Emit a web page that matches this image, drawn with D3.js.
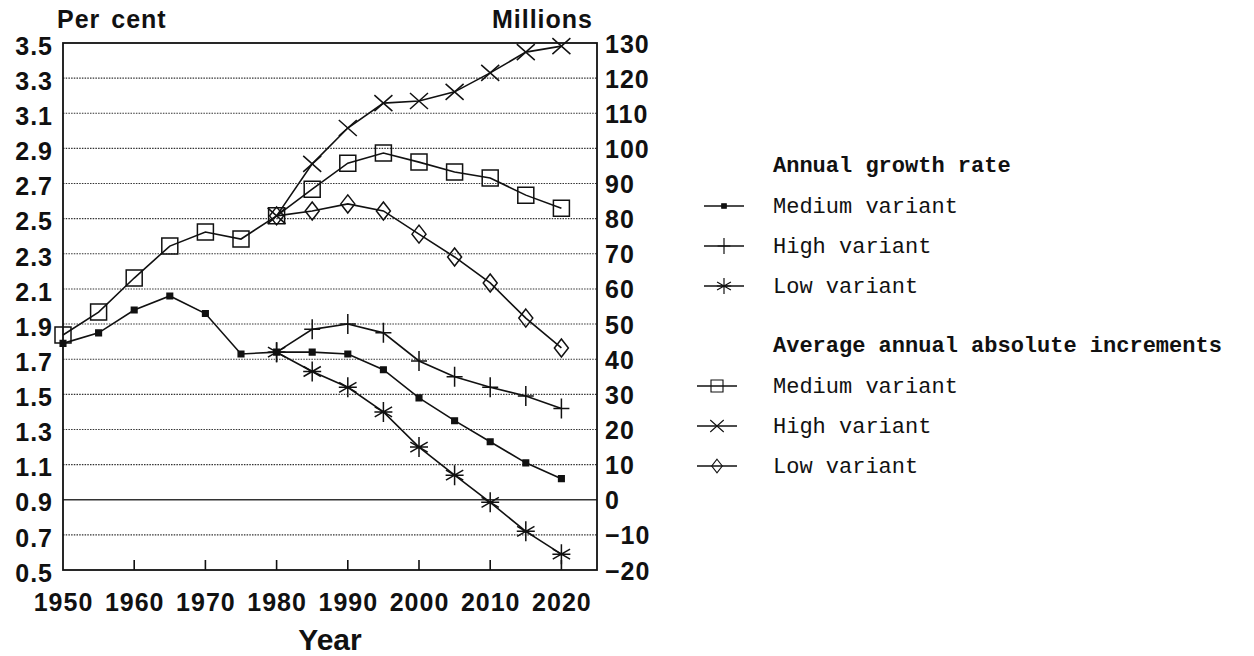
<!DOCTYPE html>
<meta charset="utf-8">
<head>
<title>Annual growth rate and average annual absolute increments</title>
<script src="https://cdn.jsdelivr.net/npm/d3@7"></script>
<style>
  body { margin: 0; background: #fff; }
  svg text { fill: #111; }
  .num { font-family: "Liberation Sans", Arial, sans-serif; font-weight: bold; font-size: 25px; letter-spacing: 1px; }
  .leg { font-family: "Liberation Mono", "Courier New", monospace; font-size: 22px; }
</style>
</head>
<body>
<svg id="chart" width="1254" height="656"></svg>
<script>
// years for all series
var years = [1950, 1955, 1960, 1965, 1970, 1975, 1980, 1985, 1990, 1995, 2000, 2005, 2010, 2015, 2020];
var projYears = [1980, 1985, 1990, 1995, 2000, 2005, 2010, 2015, 2020];

// annual growth rate, per cent
var rateMedium = [1.79, 1.85, 1.98, 2.06, 1.96, 1.73, 1.74, 1.74, 1.73, 1.64, 1.48, 1.35, 1.23, 1.11, 1.02];
var rateHigh = [1.74, 1.87, 1.90, 1.85, 1.69, 1.60, 1.54, 1.49, 1.42];
var rateLow = [1.74, 1.63, 1.54, 1.40, 1.20, 1.04, 0.885, 0.72, 0.59];

// average annual absolute increments, millions
var incMedium = [46.9, 53.4, 63.1, 72.2, 76.2, 74.2, 80.8, 88.4, 95.8, 98.7, 96.1, 93.3, 91.6, 86.7, 83.0];
var incHigh = [80.8, 95.6, 105.8, 112.9, 113.5, 116.1, 121.5, 127.4, 129.1];
var incLow = [80.8, 82.2, 84.2, 82.2, 75.6, 69.1, 61.7, 51.7, 43.2];

var leftTicks = [0.5, 0.7, 0.9, 1.1, 1.3, 1.5, 1.7, 1.9, 2.1, 2.3, 2.5, 2.7, 2.9, 3.1, 3.3, 3.5];
var rightTicks = [-20, -10, 0, 10, 20, 30, 40, 50, 60, 70, 80, 90, 100, 110, 120, 130];
var xTicks = [1950, 1960, 1970, 1980, 1990, 2000, 2010, 2020];

var svg = d3.select("#chart");

var x = d3.scaleLinear().domain([1950, 2025]).range([63, 597]),
    yL = d3.scaleLinear().domain([0.5, 3.5]).range([570, 43]),
    yR = d3.scaleLinear().domain([-20, 130]).range([570, 43]);

// gridlines
svg.append("g").selectAll("line")
  .data(leftTicks.filter(function (d) { return d > 0.5 && d < 3.5; }))
  .enter().append("line")
  .attr("x1", x(1950)).attr("x2", x(2025))
  .attr("y1", function (d) { return yL(d); })
  .attr("y2", function (d) { return yL(d); })
  .attr("stroke", "#333")
  .attr("stroke-width", function (d) { return Math.abs(d - 0.9) < 1e-6 ? 1.6 : 1.1; })
  .attr("stroke-dasharray", function (d) { return Math.abs(d - 0.9) < 1e-6 ? null : "1.5,1.2"; });

// frame
svg.append("rect")
  .attr("x", x(1950)).attr("y", yL(3.5))
  .attr("width", x(2025) - x(1950)).attr("height", yL(0.5) - yL(3.5))
  .attr("fill", "none").attr("stroke", "#111").attr("stroke-width", 1.8);

// bottom ticks
svg.append("g").selectAll("line")
  .data(xTicks.slice(1))
  .enter().append("line")
  .attr("x1", function (d) { return x(d); }).attr("x2", function (d) { return x(d); })
  .attr("y1", yL(0.5)).attr("y2", yL(0.5) - 10)
  .attr("stroke", "#111").attr("stroke-width", 1.6);

// axes labels
var axL = svg.append("g").attr("transform", "translate(" + x(1950) + ",0)")
  .call(d3.axisLeft(yL).tickValues(leftTicks).tickSize(0).tickPadding(10)
    .tickFormat(function (d) { return d.toFixed(1); }));
var axR = svg.append("g").attr("transform", "translate(" + x(2025) + ",0)")
  .call(d3.axisRight(yR).tickValues(rightTicks).tickSize(0).tickPadding(8)
    .tickFormat(function (d) { return d < 0 ? "\u2212" + Math.abs(d) : d; }));
var axB = svg.append("g").attr("transform", "translate(0," + yL(0.5) + ")")
  .call(d3.axisBottom(x).tickValues(xTicks).tickSize(0).tickPadding(22)
    .tickFormat(function (d) { return d; }));
[axL, axR, axB].forEach(function (a) {
  a.select(".domain").remove();
  a.selectAll("text").attr("class", "num").attr("fill", "#111");
});
axL.selectAll("text").attr("dy", "0.45em");
axR.selectAll("text").attr("dy", "0.36em");
axB.selectAll("text").attr("dy", "0.75em");

svg.append("text").attr("class", "num").attr("x", 57).attr("y", 28)
  .attr("font-size", "21px").attr("letter-spacing", "2.5px").attr("word-spacing", "3px").text("Per cent");
svg.append("text").attr("class", "num").attr("x", 593).attr("y", 28)
  .attr("text-anchor", "end").attr("font-size", "21px").attr("letter-spacing", "1.5px").text("Millions");
svg.append("text").attr("x", 330).attr("y", 650).attr("text-anchor", "middle")
  .attr("font-family", "Liberation Sans, Arial, sans-serif").attr("font-weight", "bold")
  .attr("font-size", "30px").text("Year");

// marker shapes
function marker(type, cx, cy) {
  var p = d3.path();
  if (type == "dot") {
    p.rect(cx - 2.8, cy - 2.8, 5.6, 5.6);
  } else if (type == "plus") {
    p.moveTo(cx, cy - 10); p.lineTo(cx, cy + 10);
    p.moveTo(cx - 8, cy); p.lineTo(cx + 8, cy);
  } else if (type == "star") {
    for (var i = 0; i < 3; i++) {
      var a = Math.PI / 2 + i * Math.PI / 3;
      p.moveTo(cx + 10 * Math.cos(a), cy - 10 * Math.sin(a));
      p.lineTo(cx - 10 * Math.cos(a), cy + 10 * Math.sin(a));
    }
    p.moveTo(cx - 9, cy); p.lineTo(cx + 9, cy);
  } else if (type == "square") {
    p.rect(cx - 8, cy - 8, 16, 16);
  } else if (type == "cross") {
    p.moveTo(cx - 9, cy - 8); p.lineTo(cx + 9, cy + 8);
    p.moveTo(cx - 9, cy + 8); p.lineTo(cx + 9, cy - 8);
  } else if (type == "diamond") {
    p.moveTo(cx, cy - 9); p.lineTo(cx + 7, cy); p.lineTo(cx, cy + 9);
    p.lineTo(cx - 7, cy); p.closePath();
  }
  return p.toString();
}

var series = [
  { xs: years, vs: rateMedium, y: yL, type: "dot" },
  { xs: projYears, vs: rateHigh, y: yL, type: "plus" },
  { xs: projYears, vs: rateLow, y: yL, type: "star" },
  { xs: years, vs: incMedium, y: yR, type: "square" },
  { xs: projYears, vs: incHigh, y: yR, type: "cross" },
  { xs: projYears, vs: incLow, y: yR, type: "diamond" }
];

var line = d3.line();
series.forEach(function (s) {
  var pts = s.xs.map(function (yr, i) { return [x(yr), s.y(s.vs[i])]; });
  var g = svg.append("g");
  g.append("path").attr("d", line(pts))
    .attr("fill", "none").attr("stroke", "#111").attr("stroke-width", 1.6);
  g.selectAll("path.m").data(pts).enter().append("path").attr("class", "m")
    .attr("d", function (d) { return marker(s.type, d[0], d[1]); })
    .attr("fill", s.type == "dot" ? "#111" : "none")
    .attr("stroke", "#111").attr("stroke-width", 1.5);
});

// legend
var legGroups = [
  { title: "Annual growth rate", y: 172, cx: 724,
    items: [["dot", "Medium variant"], ["plus", "High variant"], ["star", "Low variant"]] },
  { title: "Average annual absolute increments", y: 352, cx: 717,
    items: [["square", "Medium variant"], ["cross", "High variant"], ["diamond", "Low variant"]] }
];
legGroups.forEach(function (grp) {
  svg.append("text").attr("class", "leg").attr("x", 773).attr("y", grp.y)
    .attr("font-weight", "bold").text(grp.title);
  grp.items.forEach(function (it, i) {
    var by = grp.y + 41 + i * 40, my = by - 7;
    svg.append("line").attr("x1", grp.cx - 20).attr("x2", grp.cx + 20)
      .attr("y1", my).attr("y2", my).attr("stroke", "#111").attr("stroke-width", 1.3);
    var sc = it[0] == "square" || it[0] == "cross" || it[0] == "diamond" ? 0.75 : 0.8;
    svg.append("path")
      .attr("transform", "translate(" + grp.cx + "," + my + ") scale(" + sc + ")")
      .attr("d", marker(it[0], 0, 0))
      .attr("fill", it[0] == "dot" ? "#111" : "none")
      .attr("stroke", "#111").attr("stroke-width", 1.5);
    svg.append("text").attr("class", "leg").attr("x", 773).attr("y", by).text(it[1]);
  });
});
</script>
</body>
